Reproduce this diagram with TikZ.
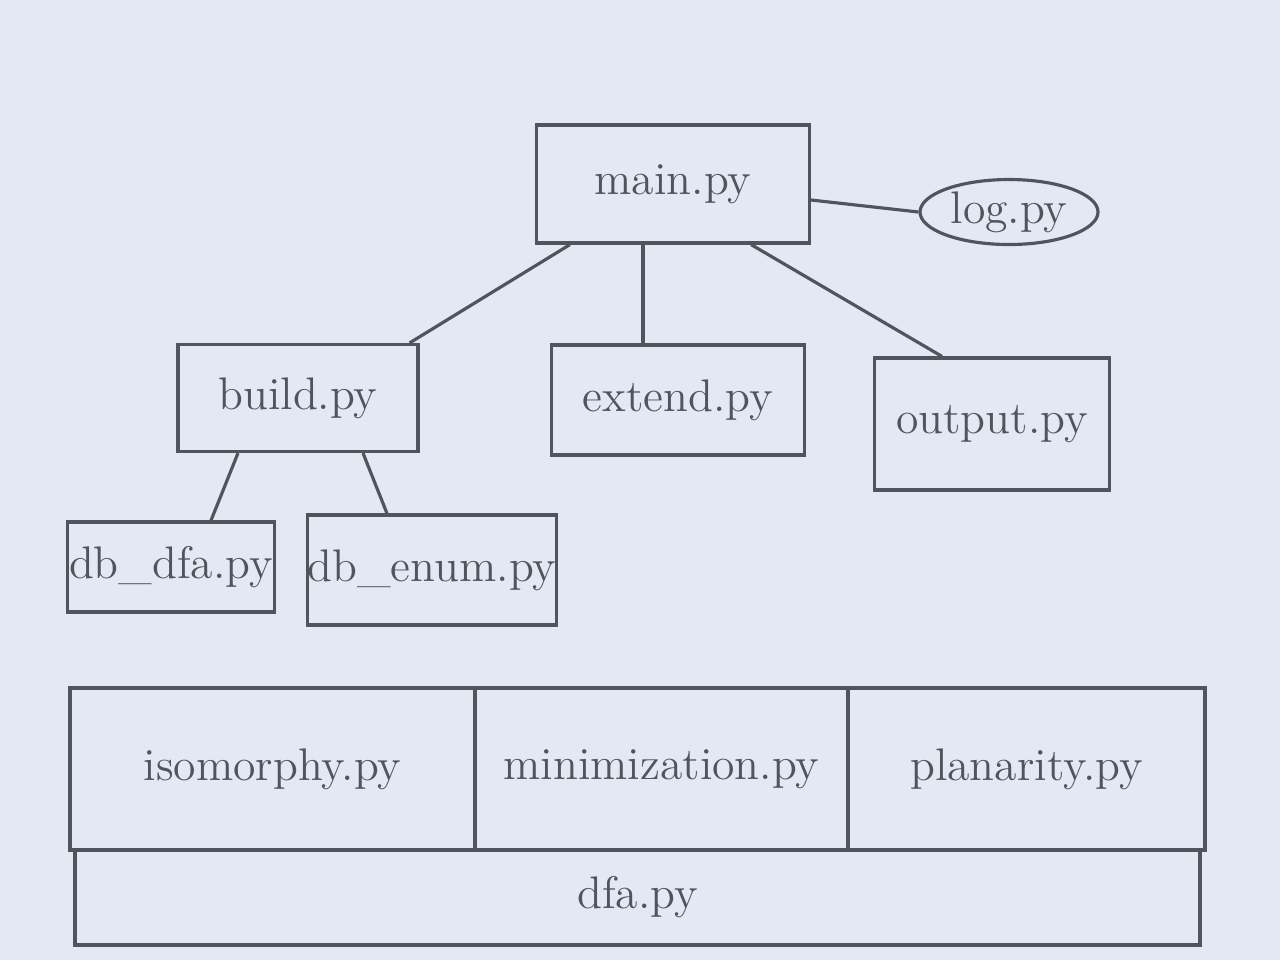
\documentclass[tikz,border=0pt]{standalone}
\usepackage{xcolor}
\usepackage{tikz}
\usetikzlibrary{arrows.meta, positioning, calc, shapes.geometric}
\definecolor{paperblue}{RGB}{226, 233, 243}
\definecolor{pencilgray}{RGB}{80, 84, 92}

\begin{document}
\begin{tikzpicture}[>=Stealth,
    module/.style={draw=pencilgray, line width=0.9pt, rectangle, inner sep=0pt,
        text=pencilgray, font=\fontsize{13}{16}\selectfont},
    helper/.style={module, ellipse},
    link/.style={draw=pencilgray, line width=0.9pt}]
    \fill[paperblue] (0,0) rectangle (12.8,-9.6);
    \useasboundingbox (0,0) rectangle (12.8,-9.6);
    % top level
    \node[module, minimum width=2.73cm, minimum height=1.18cm] (main) at (6.73,-1.84) {main.py};
    \node[helper, minimum width=1.78cm, minimum height=0.65cm] (log) at (10.09,-2.12) {log.py};
    % second level
    \node[module, minimum width=2.40cm, minimum height=1.07cm] (build) at (2.98,-3.98) {build.py};
    \node[module, minimum width=2.53cm, minimum height=1.10cm] (extend) at (6.78,-4.00) {extend.py};
    \node[module, minimum width=2.35cm, minimum height=1.32cm] (output) at (9.92,-4.24) {output.py};
    % database builders
    \node[module, minimum width=2.07cm, minimum height=0.90cm] (dbdfa) at (1.71,-5.67) {db\_dfa.py};
    \node[module, minimum width=2.45cm, minimum height=1.10cm] (dbenum) at (4.32,-5.70) {db\_enum.py};
    % library layer
    \node[module, minimum width=4.05cm, minimum height=1.62cm] (iso) at (2.725,-7.69) {isomorphy.py};
    \node[module, minimum width=3.73cm, minimum height=1.62cm] (mini) at (6.615,-7.69) {minimization.py};
    \node[module, minimum width=3.57cm, minimum height=1.62cm] (planar) at (10.265,-7.69) {planarity.py};
    \node[module, minimum width=11.25cm, minimum height=0.95cm] (dfa) at (6.375,-8.975) {dfa.py};
    % connections
    \draw[link] ([yshift=-0.16cm]main.east) -- (log.west);
    \draw[link] ([xshift=0.35cm]main.south west) -- ([xshift=-0.1cm]build.north east);
    \draw[link] ([xshift=-0.3cm]main.south) -- ([xshift=-0.35cm]extend.north);
    \draw[link] ([xshift=-0.6cm]main.south east) -- ([xshift=-0.5cm]output.north);
    \draw[link] ([xshift=-0.6cm]build.south) -- ([xshift=0.4cm]dbdfa.north);
    \draw[link] ([xshift=0.65cm]build.south) -- ([xshift=-0.45cm]dbenum.north);
\end{tikzpicture}
\end{document}
